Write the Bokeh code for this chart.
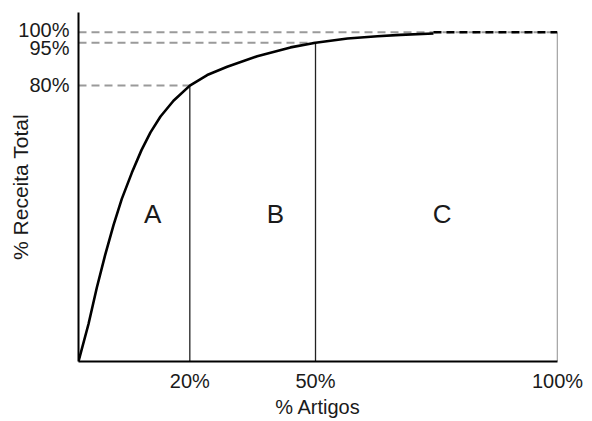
from bokeh.plotting import figure
from bokeh.models import Range1d, FixedTicker, Label
from bokeh.embed import file_html
from bokeh.resources import INLINE

# Curve of cumulative revenue (axis-% units of the schematic axes)
curve_x = [0, 2.09, 3.82, 5.57, 7.31, 9.04, 11.13, 13.15, 15.03, 17.12, 19.83, 23.24,
           26.87, 31.04, 37.31, 44.26, 49.48, 56.16, 62.42, 67.22, 74.11]
curve_y = [0, 11.4, 22.4, 32.4, 41.4, 49.4, 57.3, 64.2, 69.6, 74.4, 79.2, 83.8,
           87.0, 89.5, 92.7, 95.4, 96.8, 98.1, 98.8, 99.2, 99.6]

# Class boundaries (positions on the schematic axes) and their labels
x_ticks = [23.24, 49.48, 100]
x_labels = ["20%", "50%", "100%"]
y_ticks = [83.8, 96.8, 100]
y_labels = ["80%", "95%", "100%"]

classes = ["A", "B", "C"]

# layout constants
class_x = [15.5, 41.1, 75.9]
class_y = 44.7
y_label_shift = [0.2, -1.55, 0.8]   # small vertical nudges of the crowded y tick labels

FONT = "Liberation Sans"
TXT = "#1a1a1a"

p = figure(width=588, height=420, output_backend="svg", toolbar_location=None,
           x_range=Range1d(0, 100), y_range=Range1d(0, 106.0),
           min_border_left=78, min_border_right=31, min_border_top=12, min_border_bottom=55)
p.outline_line_color = None
p.xgrid.visible = False
p.ygrid.visible = False
p.background_fill_color = "white"
p.border_fill_color = "white"

for ax in (p.xaxis, p.yaxis):
    ax.major_tick_in = 0
    ax.major_tick_out = 0
    ax.minor_tick_in = 0
    ax.minor_tick_out = 0
    ax.axis_line_color = "black"
    ax.axis_line_width = 2
    ax.major_label_text_font = FONT
    ax.major_label_text_font_size = "20px"
    ax.major_label_text_color = TXT
    ax.axis_label_text_font = FONT
    ax.axis_label_text_font_style = "normal"
    ax.axis_label_text_color = TXT

p.xaxis.ticker = FixedTicker(ticks=x_ticks)
p.xaxis.major_label_overrides = {t: l for t, l in zip(x_ticks, x_labels)}
p.xaxis.major_label_standoff = 8
p.xaxis.axis_label = "% Artigos"
p.xaxis.axis_label_text_font_size = "20px"
p.xaxis.axis_label_standoff = 1

y_label_pos = [t + s for t, s in zip(y_ticks, y_label_shift)]
p.yaxis.ticker = FixedTicker(ticks=y_label_pos)
p.yaxis.major_label_overrides = {t: l for t, l in zip(y_label_pos, y_labels)}
p.yaxis.major_label_standoff = 9
p.yaxis.axis_label = "% Receita Total"
p.yaxis.axis_label_text_font_size = "21px"
p.yaxis.axis_label_standoff = -17

# dashed reference lines from the y-axis to the curve
dash_col = "#9a9a9a"
for xt, yt in zip(x_ticks, y_ticks):
    p.line([0, xt], [yt, yt], line_color=dash_col, line_width=2, line_dash="8 5")

# vertical class boundaries
for i, (xt, yt) in enumerate(zip(x_ticks, y_ticks)):
    col = "#555555" if i == len(x_ticks) - 1 else "#222222"
    p.line([xt, xt], [0, yt], line_color=col, line_width=1.3)

# curve
p.line(curve_x, curve_y, line_color="black", line_width=2.6)
p.line([curve_x[-1], x_ticks[-1]], [y_ticks[-1], y_ticks[-1]],
       line_color="black", line_width=2.4, line_dash="8 5")

for c, cx in zip(classes, class_x):
    p.add_layout(Label(x=cx, y=class_y, text=c, text_font=FONT, text_font_size="26px",
                       text_color=TXT, text_align="center", text_baseline="middle"))

open("out.html", "w").write(file_html(p, INLINE))
